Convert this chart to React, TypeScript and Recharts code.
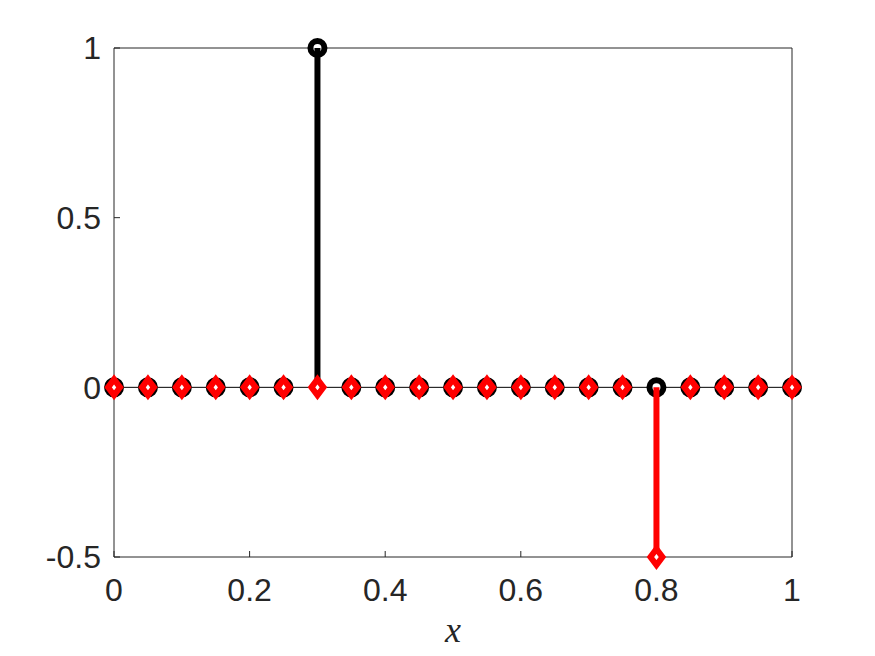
import React from "react";
import {
  ComposedChart,
  Bar,
  XAxis,
  YAxis,
  ReferenceLine,
} from "recharts";

// sample positions along x (step 0.05)
const xValues = [
  0, 0.05, 0.1, 0.15, 0.2, 0.25, 0.3, 0.35, 0.4, 0.45, 0.5,
  0.55, 0.6, 0.65, 0.7, 0.75, 0.8, 0.85, 0.9, 0.95, 1,
];
// black stems (circles)
const blackValues = [
  0, 0, 0, 0, 0, 0, 1, 0, 0, 0, 0,
  0, 0, 0, 0, 0, 0, 0, 0, 0, 0,
];
// red stems (diamonds)
const redValues = [
  0, 0, 0, 0, 0, 0, 0, 0, 0, 0, 0,
  0, 0, 0, 0, 0, -0.5, 0, 0, 0, 0,
];
const xTicks = [0, 0.2, 0.4, 0.6, 0.8, 1];
const yTicks = [-0.5, 0, 0.5, 1];

const data = xValues.map((x, i) => ({
  x,
  black: blackValues[i],
  red: redValues[i],
}));

const AXIS = "#262626";
const FONT = "'Liberation Sans', Arial, Helvetica, sans-serif";

const CircleStem = (props: any) => {
  const { x, y, width, height } = props;
  const cx = x + width / 2;
  return (
    <g>
      <circle cx={cx} cy={y} r={7} fill="#fff" stroke="#000" strokeWidth={6} />
      {Math.abs(height) > 0.5 && (
        <line x1={cx} y1={y} x2={cx} y2={y + height} stroke="#000" strokeWidth={6} />
      )}
    </g>
  );
};

const DiamondStem = (props: any) => {
  const { x, y, width, height } = props;
  const cx = x + width / 2;
  const w = 6;
  const h = 8;
  return (
    <g>
      {Math.abs(height) > 0.5 && (
        <line x1={cx} y1={y} x2={cx} y2={y + height} stroke="#f00" strokeWidth={6} />
      )}
      <path
        d={`M${cx},${y - h} L${cx + w},${y} L${cx},${y + h} L${cx - w},${y} Z`}
        fill="#fff"
        stroke="#f00"
        strokeWidth={6}
        strokeLinejoin="miter"
        strokeMiterlimit={10}
      />
    </g>
  );
};

const tickStyle = { fontSize: 32, fill: AXIS, fontFamily: FONT };

const App: React.FC = () => {
  return (
    <div style={styles.page}>
      <ComposedChart
        width={875}
        height={656}
        data={data}
        margin={{ top: 18, right: 0, bottom: 0, left: 0 }}
      >
        <XAxis
          xAxisId="b"
          dataKey="x"
          type="number"
          domain={[0, 1]}
          ticks={xTicks}
          height={99}
          tickSize={-6}
          tickMargin={27}
          tick={tickStyle}
          tickLine={{ stroke: AXIS }}
          axisLine={{ stroke: AXIS }}
          label={{
            value: "x",
            position: "insideBottom",
            offset: 14,
            style: {
              fontSize: 36,
              fontStyle: "italic",
              fontFamily: "'Liberation Serif', 'Times New Roman', serif",
              fill: AXIS,
            },
          }}
        />
        <XAxis
          xAxisId="t"
          orientation="top"
          dataKey="x"
          type="number"
          domain={[0, 1]}
          ticks={xTicks}
          height={30}
          tickSize={-6}
          tick={false}
          tickLine={{ stroke: AXIS }}
          axisLine={{ stroke: AXIS }}
        />
        <YAxis
          yAxisId="l"
          type="number"
          domain={[-0.5, 1]}
          ticks={yTicks}
          width={114}
          tickSize={-6}
          tickMargin={19}
          tick={tickStyle}
          tickLine={{ stroke: AXIS }}
          axisLine={{ stroke: AXIS }}
        />
        <YAxis
          yAxisId="r"
          orientation="right"
          type="number"
          domain={[-0.5, 1]}
          ticks={yTicks}
          width={83}
          tickSize={-6}
          tick={false}
          tickLine={{ stroke: AXIS }}
          axisLine={{ stroke: AXIS }}
        />
        <ReferenceLine xAxisId="b" yAxisId="l" y={0} stroke="#000" strokeWidth={1} />
        <Bar
          xAxisId="b"
          yAxisId="l"
          dataKey="black"
          barSize={6}
          fill="#000"
          shape={CircleStem}
          isAnimationActive={false}
          zIndex={700}
        />
        <Bar
          xAxisId="t"
          yAxisId="l"
          dataKey="red"
          barSize={6}
          fill="#f00"
          shape={DiamondStem}
          isAnimationActive={false}
          zIndex={800}
        />
      </ComposedChart>
    </div>
  );
};

const styles: { [key: string]: React.CSSProperties } = {
  page: {
    position: "absolute",
    left: 0,
    top: 0,
    width: 875,
    height: 656,
    background: "#fff",
  },
};

export default App;
